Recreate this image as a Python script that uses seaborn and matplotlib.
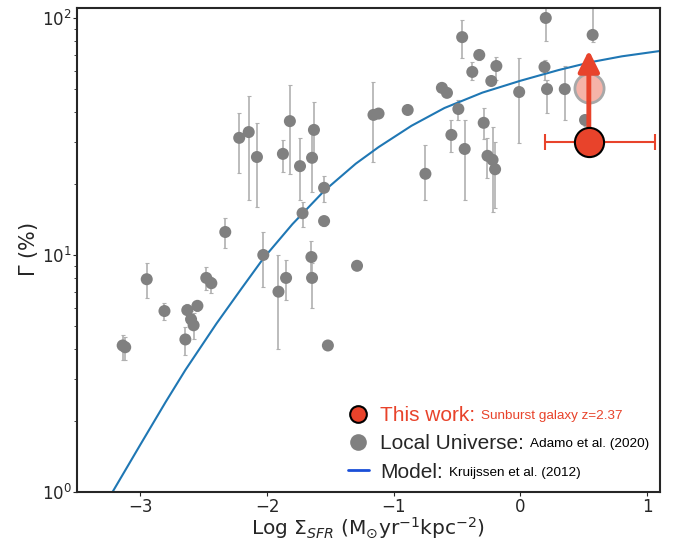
import numpy as np
import pandas as pd
import seaborn as sns
import matplotlib.pyplot as plt
from matplotlib.lines import Line2D

# Local Universe clusters (Adamo et al. 2020): log Sigma_SFR, Gamma (%), error range
log_sfr = [-3.14, -3.12, -2.95, -2.81, -2.63, -2.60, -2.58, -2.55, -2.645, -2.48,
           -2.44, -2.33, -2.03, -1.91, -1.85, -1.72, -1.65, -1.645, -1.55, -1.55,
           -1.52, -1.29, -2.22, -2.145, -2.08, -1.875, -1.82, -1.74, -1.645, -1.63,
           -1.16, -1.12, -0.89, -0.62, -0.58, -0.75, -0.49, -0.545, -0.44, -0.46,
           -0.325, -0.38, -0.23, -0.19, -0.29, -0.26, -0.22, -0.20, -0.01, 0.20,
           0.19, 0.21, 0.35, 0.57, 0.51]
gamma = [4.15, 4.08, 7.9, 5.8, 5.85, 5.35, 5.05, 6.1, 4.4, 8.0,
         7.6, 12.5, 10.0, 7.0, 8.0, 15.0, 9.8, 8.0, 19.2, 13.9,
         4.15, 9.0, 31.2, 33.0, 25.9, 26.7, 36.7, 23.7, 25.7, 33.7,
         39.0, 39.5, 40.9, 50.7, 48.3, 22.0, 41.3, 32.1, 28.0, 83.0,
         69.8, 59.2, 54.2, 62.7, 36.1, 26.2, 25.2, 23.0, 48.7, 100.0,
         62.1, 50.1, 50.1, 84.8, 37.1]
gamma_lo = [3.6, 3.6, 6.6, 5.3, 5.4, 5.0, 4.4, 5.8, 3.78, 7.1,
            6.9, 10.7, 7.3, 4.0, 6.45, 13.1, 8.5, 6.0, 16.7, 13.3,
            4.15, 9.0, 22.2, 17.1, 15.9, 22.4, 22.0, 17.1, 18.4, 25.7,
            24.7, 39.5, 40.9, 50.7, 48.3, 17.1, 37.1, 27.1, 17.1, 67.8,
            66.4, 54.7, 52.0, 54.7, 30.9, 21.1, 15.2, 15.8, 29.6, 80.0,
            54.7, 39.7, 37.1, 79.0, 35.0]
gamma_hi = [4.6, 4.5, 9.25, 6.3, 6.2, 5.8, 5.7, 6.4, 4.97, 8.9,
            8.1, 14.3, 12.5, 10.0, 9.5, 16.7, 11.4, 9.25, 21.6, 14.6,
            4.15, 9.0, 39.7, 46.9, 36.0, 30.5, 52.0, 31.2, 33.0, 44.3,
            53.6, 39.5, 40.9, 50.7, 48.3, 29.0, 45.2, 37.1, 37.1, 98.3,
            73.5, 65.0, 56.5, 68.5, 41.7, 31.2, 34.8, 30.0, 68.0, 120.0,
            66.4, 54.7, 63.0, 120.0, 39.0]

# Kruijssen et al. (2012) model curve
model_x = [-3.30, -3.22, -3.00, -2.80, -2.645, -2.40, -2.20, -2.03, -1.80, -1.55,
           -1.30, -1.12, -0.86, -0.60, -0.30, 0.00, 0.30, 0.56, 0.80, 1.12]
model_y = [0.851, 1.00, 1.585, 2.40, 3.27, 5.13, 7.24, 9.66, 13.49, 18.62,
           24.27, 28.51, 35.08, 41.69, 48.42, 54.33, 60.26, 65.16, 68.87, 72.78]

# Sunburst galaxy z=2.37
sb_x = 0.54
sb_y = 30.0
sb_xerr = [0.35, 0.52]
sb_limit = 73.0
sb_corr = 50.7

red = '#e8432b'
grey = '#808080'

sns.set_style('ticks')
plt.rcParams['font.family'] = ['DejaVu Sans']

df = pd.DataFrame({'x': log_sfr, 'y': gamma, 'lo': gamma_lo, 'hi': gamma_hi})
model = pd.DataFrame({'x': model_x, 'y': model_y})

fig = plt.figure(figsize=(6.76, 5.43), dpi=100)
ax = fig.add_axes([0.114, 0.094, 0.862, 0.891])

yerr = np.array([df['y'] - df['lo'], df['hi'] - df['y']])
ax.errorbar(df['x'], df['y'], yerr=yerr, fmt='none', ecolor='#b0b0b0',
            elinewidth=1.2, capsize=1.5, capthick=0.8, zorder=2)
sns.scatterplot(data=df, x='x', y='y', color=grey, s=75, edgecolor='none',
                ax=ax, zorder=3, legend=False)

sns.lineplot(data=model, x='x', y='y', color='#1f77b4', linewidth=1.5, ax=ax,
             zorder=2.5, legend=False)

# corrected (pink) point, arrow and measured point
ax.plot([sb_x], [sb_corr], 'o', ms=21, mfc='#f5b3a8', mec='#a8a8a8', mew=2, zorder=4)
ax.annotate('', xy=(sb_x, sb_limit), xytext=(sb_x, sb_y),
            arrowprops=dict(arrowstyle='-|>,head_length=0.9,head_width=0.45',
                            color=red, lw=3.5, shrinkA=0, shrinkB=0,
                            mutation_scale=14), zorder=5)
ax.errorbar([sb_x], [sb_y], xerr=[[sb_xerr[0]], [sb_xerr[1]]], fmt='none',
            ecolor=red, elinewidth=1.5, capsize=6, capthick=1.5, zorder=5)
ax.plot([sb_x], [sb_y], 'o', ms=21, mfc=red, mec='black', mew=1.5, zorder=6)

ax.set_yscale('log')
ax.set_ylim(1, 110)
ax.set_xlim(-3.5, 1.1)
ax.set_xticks([-3, -2, -1, 0, 1])
ax.tick_params(which='major', direction='out', length=3, labelsize=12, pad=1)
ax.tick_params(which='minor', direction='out', length=2)
for s in ax.spines.values():
    s.set_linewidth(1.5)

ax.set_xlabel(r'Log $\Sigma_{SFR}$ (M$_{\odot}$yr$^{-1}$kpc$^{-2}$)', fontsize=14.5, labelpad=-0.3)
ax.set_ylabel(r'$\Gamma$ (%)', fontsize=15, labelpad=1)

handles = [
    Line2D([], [], ls='none', marker='o', ms=12, mfc=red, mec='black', mew=1.5),
    Line2D([], [], ls='none', marker='o', ms=12, mfc=grey, mec='none'),
    Line2D([], [], color='#1a4fd8', lw=2),
]
labels = ['This work:', 'Local Universe:', 'Model:']
leg = ax.legend(handles, labels, loc='upper left', bbox_to_anchor=(0.465, 0.178),
                frameon=False, borderpad=0, borderaxespad=0, handlelength=1.0,
                handletextpad=0.55, labelspacing=0.45,
                prop={'family': 'Liberation Sans', 'size': 15})
leg.get_texts()[0].set_color(red)

small = [('Sunburst galaxy z=2.37', red), ('Adamo et al. (2020)', 'black'),
         ('Kruijssen et al. (2012)', 'black')]
for txt, (s, c) in zip(leg.get_texts(), small):
    ax.annotate(s, xy=(1, 0), xycoords=txt, xytext=(4, 2), textcoords='offset points',
                va='bottom', ha='left', color=c, fontsize=9.7,
                family='Liberation Sans', zorder=10)

fig.savefig('out.png', dpi=100)
